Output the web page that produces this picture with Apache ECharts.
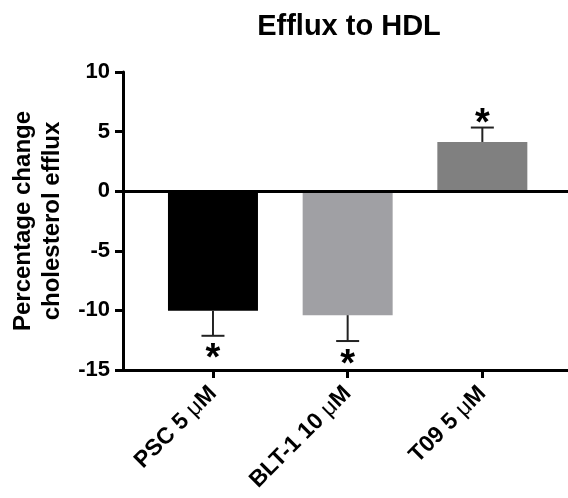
<!DOCTYPE html>
<html>
<head>
<meta charset="utf-8">
<script src="https://cdn.jsdelivr.net/npm/echarts@6/dist/echarts.min.js"></script>
<style>
html,body{margin:0;padding:0;background:#fff;}
#chart{width:568px;height:498px;}
</style>
</head>
<body>
<div id="chart"></div>
<script>
// ---- data ----
const categoryNames = ['PSC 5 ', 'BLT-1 10 ', 'T09 5 ']; // each followed by "μM"
const categoryUnit = 'μM';
const meanValues = [-10.03, -10.4, 4.13];
const errorValues = [2.1, 2.17, 1.21];
const barColors = ['#000000', '#a0a0a4', '#808080'];
const yTicks = [-15, -10, -5, 0, 5, 10];
const significance = ['*', '*', '*'];

const FONT = '"Liberation Sans", Arial, Helvetica, sans-serif';
const positions = categoryNames.map((_, i) => i);

const chart = echarts.init(document.getElementById('chart'), null, {renderer: 'canvas'});

const barData = meanValues.map((v, i) => ({
  value: [positions[i], v],
  itemStyle: {color: barColors[i]}
}));
const errData = meanValues.map((v, i) => [positions[i], v, errorValues[i], i]);

const option = {
  animation: false,
  backgroundColor: '#ffffff',
  title: {
    text: 'Efflux to HDL',
    left: 344,
    textAlign: 'center',
    top: 7,
    textStyle: {fontFamily: FONT, fontSize: 29, fontWeight: 'bold', color: '#000'}
  },
  grid: {left: 123, right: 0, top: 72, bottom: 128, containLabel: false},
  xAxis: {
    type: 'value',
    min: -0.668,
    max: 2.636,
    splitLine: {show: false},
    axisLine: {show: true, onZero: false, lineStyle: {color: '#000', width: 3}},
    axisTick: {show: true, customValues: positions, length: 8, lineStyle: {color: '#000', width: 3}},
    axisLabel: {
      customValues: positions,
      rotate: 45,
      margin: 20,
      align: 'right',
      verticalAlign: 'middle',
      fontFamily: FONT,
      fontSize: 23,
      fontWeight: 'bold',
      color: '#000',
      formatter: v => '{b|' + categoryNames[Math.round(v)] + '}{m|' + categoryUnit.charAt(0) + '}{b|' + categoryUnit.slice(1) + '}',
      rich: {
        b: {fontFamily: FONT, fontSize: 23, fontWeight: 'bold', color: '#000'},
        m: {fontFamily: FONT, fontSize: 23, fontWeight: 'normal', color: '#000'}
      }
    }
  },
  yAxis: {
    type: 'value',
    min: yTicks[0],
    max: yTicks[yTicks.length - 1],
    interval: 5,
    name: 'Percentage change\ncholesterol efflux',
    nameLocation: 'middle',
    nameGap: 56,
    nameTextStyle: {fontFamily: FONT, fontSize: 24, fontWeight: 'bold', color: '#000', lineHeight: 29},
    splitLine: {show: false},
    axisLine: {show: true, onZero: false, lineStyle: {color: '#000', width: 3}},
    axisTick: {show: true, length: 8, lineStyle: {color: '#000', width: 3}},
    axisLabel: {margin: 13, fontFamily: FONT, fontSize: 22, fontWeight: 'bold', color: '#000'}
  },
  series: [
    {
      type: 'bar',
      data: barData,
      barWidth: 90,
      z: 2,
      markLine: {
        silent: true,
        symbol: 'none',
        label: {show: false},
        lineStyle: {color: '#000', width: 3, type: 'solid'},
        data: [{yAxis: 0}],
        z: 5
      }
    },
    {
      type: 'custom',
      z: 3,
      data: errData,
      renderItem: function (params, api) {
        const x = api.value(0), mean = api.value(1), err = api.value(2), idx = api.value(3);
        const end = mean + (mean < 0 ? -err : err);
        const p0 = api.coord([x, mean]);
        const p1 = api.coord([x, end]);
        const cap = 11.5;
        const below = mean < 0;
        return {
          type: 'group',
          children: [
            {type: 'line', shape: {x1: p0[0], y1: p0[1], x2: p1[0], y2: p1[1]}, style: {stroke: '#222', lineWidth: 2}},
            {type: 'line', shape: {x1: p1[0] - cap, y1: p1[1], x2: p1[0] + cap, y2: p1[1]}, style: {stroke: '#222', lineWidth: 2}},
            {type: 'text', style: {
              text: significance[idx], x: p1[0], y: p1[1] + (below ? 24 : -3),
              align: 'center', verticalAlign: 'middle',
              font: 'bold 38px ' + FONT, fill: '#000'
            }}
          ]
        };
      }
    }
  ]
};
chart.setOption(option);
</script>
</body>
</html>
